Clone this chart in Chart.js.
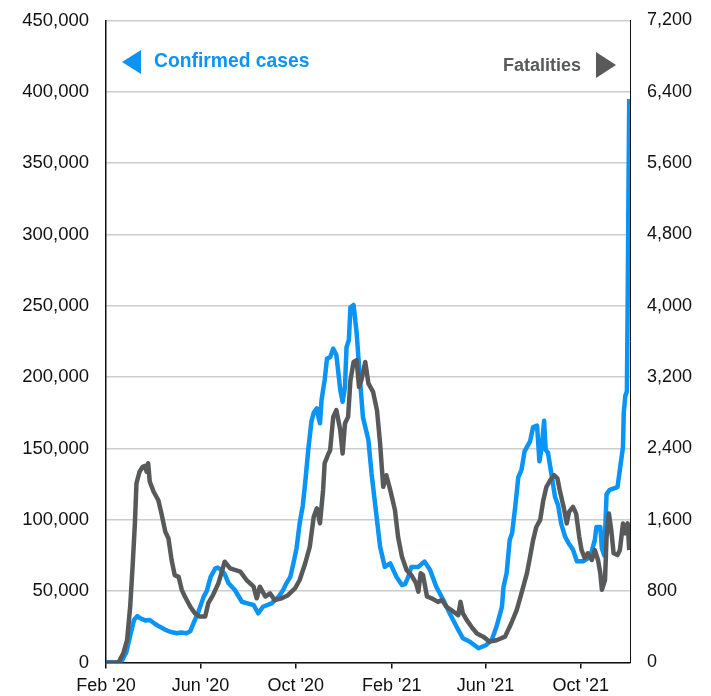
<!DOCTYPE html>
<html>
<head>
<meta charset="utf-8">
<script src="https://cdn.jsdelivr.net/npm/chart.js@4"></script>
<style>
  html, body { margin: 0; padding: 0; background: #fff; }
</style>
</head>
<body>
<canvas id="chart" width="711" height="696"></canvas>
<script>
// days counted from 1 Feb 2020
const caseDays = [0, 15, 20, 26, 31, 36, 40, 44, 50, 56, 63, 69, 76, 82, 91, 96, 103, 108, 112, 118,
  125, 129, 134, 140, 143, 148, 152, 157, 165, 174, 181, 189, 195, 201, 212, 221, 227, 231, 236, 240,
  244, 248, 252, 255, 259, 263, 266, 270, 272, 274, 276, 280, 283, 287, 291, 295, 300, 303, 306, 308,
  311, 313, 317, 321, 325, 329, 336, 340, 347, 351, 357, 364, 372, 379, 383, 387, 391, 400, 404, 408,
  415, 423, 432, 440, 449, 457, 466, 477, 487, 494, 500, 507, 509, 513, 517, 520, 524, 528, 532, 536,
  543, 547, 552, 555, 558, 561, 563, 566, 571, 575, 579, 583, 588, 592, 598, 603, 611, 620, 626, 628,
  633, 635, 638, 641, 645, 655, 658, 662, 663, 665, 667, 668, 669, 670];
const cases = [0, 0, 1000, 7000, 19000, 30000, 32500, 31000, 29500, 29800, 27000, 25000, 23000, 21500, 20500, 21000, 20500, 22000, 27500, 35000,
  46000, 50000, 60000, 66000, 66500, 64800, 62000, 55500, 50800, 42600, 41500, 40300, 34500, 39100, 41500, 46100, 51000, 55500, 60000, 69500,
  80000, 97600, 110000, 125600, 149000, 168800, 175000, 178200, 172000, 167700, 184000, 198000, 213000, 214000, 220000, 215600, 191000, 182800, 193000, 221000,
  226000, 249000, 250600, 230800, 200000, 172000, 156000, 132600, 99900, 81200, 67000, 69500, 60000, 54300, 55000, 60000, 67000, 67000, 69000, 70700,
  64800, 53000, 43800, 34500, 25000, 17000, 14600, 10000, 12300, 15800, 25000, 39000, 53000, 62500, 86000, 90600, 109000, 130000, 135000, 148000,
  155000, 165000, 166000, 141000, 151000, 169500, 149000, 147000, 130000, 116000, 110000, 97000, 88000, 84000, 79000, 71000, 71000, 74000, 86000, 95000,
  95000, 80000, 75000, 118000, 121000, 123000, 135000, 151000, 175000, 187000, 190000, 250000, 330000, 395000];

const deathDays = [0, 16, 22, 27, 31, 34, 37, 39, 43, 47, 50, 52, 54, 56, 61, 67, 71, 76, 80, 84,
  88, 93, 97, 101, 108, 114, 120, 127, 131, 137, 144, 152, 159, 172, 180, 189, 193, 197, 204, 210,
  216, 225, 233, 242, 248, 255, 261, 266, 270, 274, 278, 280, 285, 287, 291, 295, 300, 303, 306, 310,
  313, 317, 321, 324, 327, 332, 336, 342, 347, 351, 355, 359, 364, 370, 374, 379, 385, 391, 397, 400,
  403, 406, 411, 417, 425, 430, 436, 445, 451, 454, 457, 462, 468, 475, 483, 491, 500, 511, 519, 526,
  532, 539, 543, 547, 551, 556, 560, 564, 569, 574, 578, 581, 586, 590, 593, 598, 602, 606, 609, 613,
  617, 622, 626, 630, 633, 635, 639, 641, 644, 647, 650, 655, 658, 662, 665, 668, 670];
const deaths = [0, 0, 100, 250, 630, 1070, 1560, 2010, 2140, 2195, 2205, 2140, 2235, 2030, 1915, 1820, 1670, 1465, 1390, 1150,
  980, 960, 815, 740, 625, 550, 515, 515, 665, 755, 890, 1130, 1055, 1020, 925, 850, 720, 850, 740, 775,
  700, 720, 755, 830, 925, 1110, 1300, 1635, 1730, 1560, 1935, 2235, 2345, 2380, 2755, 2830, 2605, 2345, 2680, 2755,
  3165, 3370, 3390, 3090, 3165, 3370, 3130, 3035, 2830, 2455, 1970, 2100, 1935, 1710, 1410, 1185, 1035, 980, 890, 795,
  1000, 980, 740, 720, 680, 700, 625, 570, 530, 680, 550, 475, 400, 325, 290, 235, 250, 290, 440, 590,
  775, 1000, 1185, 1375, 1520, 1600, 1820, 1970, 2045, 2100, 2065, 1935, 1745, 1560, 1690, 1745, 1670, 1410, 1260, 1170,
  1225, 1150, 1260, 1150, 1000, 815, 925, 1410, 1670, 1485, 1225, 1205, 1260, 1560, 1450, 1560, 1260];

const tickDays = [0, 121, 243, 366, 486, 608];
const tickLabels = ["Feb '20", "Jun '20", "Oct '20", "Feb '21", "Jun '21", "Oct '21"];
const lastDay = 671;

const BLUE = '#0a94f6';
const GREY = '#58595b';
const FONT = '"Liberation Sans", Arial, sans-serif';

const toPoints = (xs, ys) => xs.map((d, i) => ({ x: d, y: ys[i] }));

const seriesLabels = {
  id: 'seriesLabels',
  afterDraw(chart) {
    const ctx = chart.ctx;
    const a = chart.chartArea;
    ctx.save();
    ctx.textBaseline = 'middle';

    // left arrow + label
    let y = a.top + 41.5;
    ctx.fillStyle = BLUE;
    ctx.beginPath();
    ctx.moveTo(a.left + 16, y);
    ctx.lineTo(a.left + 35, y - 12);
    ctx.lineTo(a.left + 35, y + 12);
    ctx.closePath();
    ctx.fill();
    ctx.font = 'bold 19.3px ' + FONT;
    ctx.textAlign = 'left';
    ctx.fillText('Confirmed cases', a.left + 48, y);

    // right arrow + label
    y = a.top + 44.5;
    ctx.fillStyle = GREY;
    ctx.beginPath();
    ctx.moveTo(a.right - 14, y);
    ctx.lineTo(a.right - 34, y - 13);
    ctx.lineTo(a.right - 34, y + 13);
    ctx.closePath();
    ctx.fill();
    ctx.font = 'bold 18px ' + FONT;
    ctx.textAlign = 'right';
    ctx.fillText('Fatalities', a.right - 49, y + 1);
    ctx.restore();
  }
};

new Chart(document.getElementById('chart'), {
  type: 'line',
  data: {
    datasets: [
      {
        label: 'Fatalities',
        data: toPoints(deathDays, deaths),
        yAxisID: 'y1',
        borderColor: GREY,
        borderWidth: 4.5,
        borderJoinStyle: 'round',
        pointRadius: 0,
        tension: 0
      },
      {
        label: 'Confirmed cases',
        data: toPoints(caseDays, cases),
        yAxisID: 'y',
        borderColor: BLUE,
        borderWidth: 4.5,
        borderJoinStyle: 'round',
        pointRadius: 0,
        tension: 0
      }
    ]
  },
  options: {
    responsive: false,
    animation: false,
    layout: { padding: { top: 20.5, left: 0, right: 0, bottom: 0 } },
    plugins: { legend: { display: false }, tooltip: { enabled: false } },
    scales: {
      x: {
        type: 'linear',
        min: 0,
        max: lastDay,
        afterBuildTicks: (scale) => { scale.ticks = tickDays.map(v => ({ value: v })); },
        afterFit: (scale) => { scale.height = 33.5; },
        ticks: {
          autoSkip: false,
          maxRotation: 0,
          padding: 7,
          color: '#111',
          font: { family: FONT, size: 18 },
          callback: (v) => tickLabels[tickDays.indexOf(v)]
        },
        grid: { drawOnChartArea: false, drawTicks: true, tickLength: 6, color: '#111', lineWidth: 1.5 },
        border: { color: '#111', width: 1.5 }
      },
      y: {
        position: 'left',
        min: 0,
        max: 450000,
        afterFit: (scale) => { scale.width = 106; },
        ticks: {
          stepSize: 50000,
          padding: 0,
          color: '#111',
          font: { family: FONT, size: 18.5 },
          callback: (v) => v.toLocaleString('en-US')
        },
        grid: { color: '#cccccc', lineWidth: 1.5, drawTicks: true, tickLength: 17, tickColor: 'rgba(0,0,0,0)' },
        border: { color: '#111', width: 1.5 }
      },
      y1: {
        position: 'right',
        min: 0,
        max: 7200,
        afterFit: (scale) => { scale.width = 81; },
        ticks: {
          stepSize: 800,
          padding: 0,
          color: '#111',
          font: { family: FONT, size: 18 },
          callback: (v) => v.toLocaleString('en-US')
        },
        grid: { drawOnChartArea: false, drawTicks: true, tickLength: 17, tickColor: 'rgba(0,0,0,0)' },
        border: { color: '#111', width: 1 }
      }
    }
  },
  plugins: [seriesLabels]
});
</script>
</body>
</html>
